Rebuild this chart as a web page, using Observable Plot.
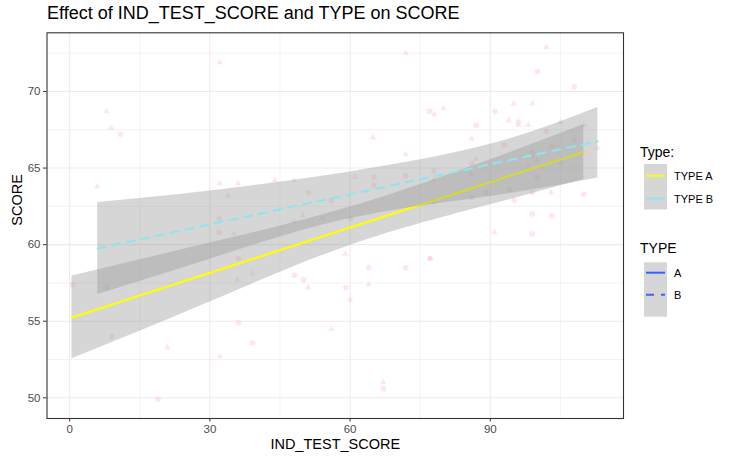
<!DOCTYPE html>
<html><head><meta charset="utf-8">
<script src="https://cdn.jsdelivr.net/npm/d3@7"></script>
<script src="https://cdn.jsdelivr.net/npm/@observablehq/plot@0.6"></script>
<style>
body{margin:0;background:#fff;font-family:"Liberation Sans",Arial,sans-serif;}
#wrap{position:relative;width:730px;height:463px;overflow:hidden;}
#chart{position:absolute;left:0;top:0;}
#title{position:absolute;left:47px;top:3px;font-size:18px;color:#000;white-space:nowrap;}
#legend{position:absolute;left:0;top:0;width:730px;height:463px;pointer-events:none;}
</style></head><body>
<div id="wrap"><div id="chart"></div><div id="title"></div><svg id="legend" width="730" height="463"></svg></div>
<script>
const titleText = "Effect of IND_TEST_SCORE and TYPE on SCORE";
const xLabel = "IND_TEST_SCORE";
const yLabel = "SCORE";
const xTicks = [0, 30, 60, 90];
const yTicks = [50, 55, 60, 65, 70];
const xMinor = [15, 45, 75, 105];
const yMinor = [52.5, 57.5, 62.5, 67.5, 72.5];

// Scatter points, TYPE A (circles)
const aX = [0.6, 8.0, 9.0, 18.9, 10.9, 32.0, 32.0, 36.1, 36.1, 39.1, 48.1, 50.0, 59.1, 64.0, 71.9, 77.1, 67.1, 65.1, 71.9, 65.1, 51.1, 77.9, 56.0, 77.9, 60.1, 77.0, 100.1, 108.0, 91.0, 96.0, 87.0, 102.0, 93.0, 103.1, 86.1, 99.0, 100.1, 89.1, 94.1, 86.1, 99.0, 95.1, 110.0, 99.0, 103.1, 99.0];
const aY = [57.4, 57.2, 54.0, 49.9, 67.2, 61.7, 60.8, 59.1, 54.9, 53.6, 58.0, 57.7, 57.2, 58.5, 58.5, 59.1, 50.6, 64.4, 64.5, 63.9, 63.4, 64.8, 62.9, 62.8, 61.7, 68.7, 71.3, 70.3, 68.7, 68.0, 67.8, 67.4, 66.5, 66.4, 65.3, 65.8, 64.4, 63.4, 63.6, 63.1, 63.4, 62.9, 63.3, 62.0, 61.9, 60.7];
// Scatter points, TYPE B (triangles)
const bX = [32.1, 7.9, 8.9, 5.9, 32.1, 36.0, 33.9, 71.9, 78.0, 80.0, 64.9, 71.9, 43.9, 48.0, 61.0, 77.9, 48.0, 49.9, 54.0, 102.0, 95.0, 99.0, 93.9, 96.0, 98.1, 105.0, 110.0, 86.0, 108.0, 113.0, 99.0, 87.0, 99.9, 105.0, 86.0, 98.1, 103.0, 20.9, 32.1, 35.1, 35.9, 39.1, 59.0, 77.1, 51.0, 64.0, 60.0, 56.0, 67.1, 90.9];
const bY = [71.9, 68.7, 67.6, 63.8, 64.0, 64.0, 63.2, 72.5, 68.5, 68.9, 67.0, 65.9, 64.2, 64.2, 64.4, 64.2, 61.5, 61.9, 61.7, 72.9, 69.2, 69.2, 68.1, 67.8, 67.8, 68.0, 67.8, 66.9, 66.8, 66.3, 66.1, 65.6, 65.5, 65.3, 64.6, 65.2, 63.4, 53.3, 52.7, 60.7, 57.7, 58.1, 59.4, 59.1, 57.2, 57.4, 56.4, 54.5, 51.0, 60.8];

// Fitted lines and confidence bands
const fitAX = [0.5, 110];
const fitAY = [55.25, 66.05];
const fitBX = [6, 113];
const fitBY = [59.75, 66.75];
const bandAX = [0.5, 30, 60, 90, 110];
const bandALo = [52.55, 56.25, 59.95, 62.6, 64.25];
const bandAHi = [57.95, 60.1, 62.45, 65.55, 67.85];
const bandBX = [6, 30, 60, 90, 113];
const bandBLo = [56.75, 59.05, 61.7, 63.15, 64.35];
const bandBHi = [62.75, 63.5, 64.75, 66.55, 68.95];

const legend1Title = "Type:";
const legend1Labels = ["TYPE A", "TYPE B"];
const legend2Title = "TYPE";
const legend2Labels = ["A", "B"];

const colA = "#FFFF00", colB = "#8EE5EE", ptCol = "#FFB6C1", bandCol = "#999999", blue = "#3366FF";

const ptsA = aX.map((x, i) => ({x, y: aY[i]}));
const ptsB = bX.map((x, i) => ({x, y: bY[i]}));
const lineA = fitAX.map((x, i) => ({x, y: fitAY[i]}));
const lineB = fitBX.map((x, i) => ({x, y: fitBY[i]}));
const bandA = bandAX.map((x, i) => ({x, lo: bandALo[i], hi: bandAHi[i]}));
const bandB = bandBX.map((x, i) => ({x, lo: bandBLo[i], hi: bandBHi[i]}));

const chart = Plot.plot({
  width: 730, height: 463,
  marginLeft: 46.5, marginRight: 107, marginTop: 32.3, marginBottom: 45,
  x: {domain: [-4.85, 118.5]},
  y: {domain: [48.65, 73.83]},
  style: {fontFamily: "'Liberation Sans', Arial, sans-serif", background: "transparent", overflow: "visible"},
  marks: [
    Plot.gridX(xMinor, {stroke: "#EBEBEB", strokeOpacity: 1, strokeWidth: 0.6}),
    Plot.gridY(yMinor, {stroke: "#EBEBEB", strokeOpacity: 1, strokeWidth: 0.6}),
    Plot.gridX(xTicks, {stroke: "#EBEBEB", strokeOpacity: 1, strokeWidth: 1.1}),
    Plot.gridY(yTicks, {stroke: "#EBEBEB", strokeOpacity: 1, strokeWidth: 1.1}),
    Plot.dot(ptsA, {x: "x", y: "y", r: 2.8, fill: ptCol, fillOpacity: 0.35, stroke: null}),
    Plot.dot(ptsB, {x: "x", y: "y", r: 2.4, symbol: "triangle", fill: ptCol, fillOpacity: 0.35, stroke: null}),
    Plot.areaY(bandA, {x: "x", y1: "lo", y2: "hi", fill: bandCol, fillOpacity: 0.4, curve: "natural"}),
    Plot.line(lineA, {x: "x", y: "y", stroke: colA, strokeWidth: 2.1}),
    Plot.areaY(bandB, {x: "x", y1: "lo", y2: "hi", fill: bandCol, fillOpacity: 0.4, curve: "natural"}),
    Plot.line(lineB, {x: "x", y: "y", stroke: colB, strokeWidth: 2.1, strokeDasharray: "8,7"}),
    Plot.frame({stroke: "#333333", strokeWidth: 1.1}),
    Plot.axisX(xTicks, {tickSize: 3.5, tickPadding: 3, stroke: "#333333", fill: "#4D4D4D", fontSize: 11.5, label: null}),
    Plot.axisY(yTicks, {tickSize: 3.5, tickPadding: 3, stroke: "#333333", fill: "#4D4D4D", fontSize: 11.5, label: null}),
    Plot.text([xLabel], {frameAnchor: "bottom", dy: 30, fontSize: 14.5, fill: "#000", text: d => d}),
    Plot.text([yLabel], {frameAnchor: "left", dx: -30, rotate: -90, fontSize: 14.5, fill: "#000", text: d => d})
  ]
});
document.getElementById("chart").appendChild(chart);
document.getElementById("title").textContent = titleText;

// Legends
const lg = d3.select("#legend");
const ff = "'Liberation Sans', Arial, sans-serif";
// Legend 1
lg.append("text").attr("x", 640).attr("y", 157).attr("font-family", ff).attr("font-size", 14).text(legend1Title);
lg.append("rect").attr("x", 644).attr("y", 164).attr("width", 23).attr("height", 45.5).attr("fill", "#D6D6D6");
[colA, colB].forEach((c, i) => {
  const cy = 175.7 + i * 23;
  lg.append("line").attr("x1", 646).attr("x2", 665).attr("y1", cy).attr("y2", cy).attr("stroke", c).attr("stroke-width", 2);
  lg.append("text").attr("x", 674).attr("y", cy + 4).attr("font-family", ff).attr("font-size", 11).text(legend1Labels[i]);
});
// Legend 2
lg.append("text").attr("x", 640).attr("y", 253).attr("font-family", ff).attr("font-size", 14).text(legend2Title);
lg.append("rect").attr("x", 644).attr("y", 262.3).attr("width", 23).attr("height", 54.4).attr("fill", "#D6D6D6");
[0, 1].forEach(i => {
  const cy = 272.7 + i * 22;
  if (i === 0) lg.append("circle").attr("cx", 655.5).attr("cy", cy).attr("r", 2.3).attr("fill", ptCol).attr("fill-opacity", 0.35);
  else lg.append("path").attr("d", d3.symbol(d3.symbolTriangle, 16)()).attr("transform", `translate(655.5,${cy})`).attr("fill", ptCol).attr("fill-opacity", 0.35);
  lg.append("line").attr("x1", 646).attr("x2", 665).attr("y1", cy).attr("y2", cy).attr("stroke", blue).attr("stroke-width", 2)
    .attr("stroke-dasharray", i === 1 ? "8,7" : null);
  lg.append("text").attr("x", 674).attr("y", cy + 4).attr("font-family", ff).attr("font-size", 11).text(legend2Labels[i]);
});
</script>
</body></html>
